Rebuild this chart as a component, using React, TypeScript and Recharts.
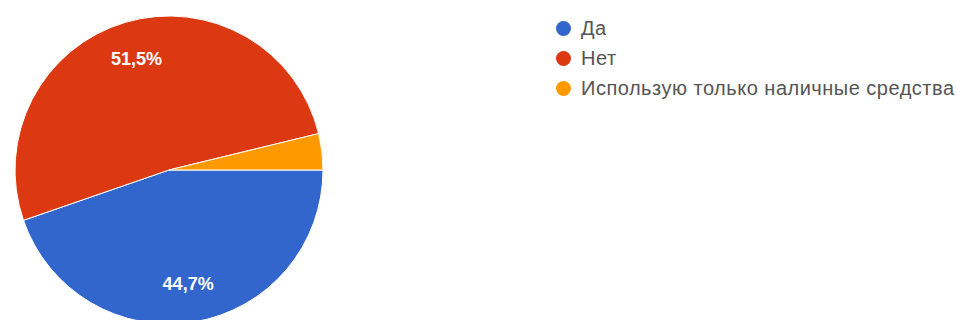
import React from "react";
import { PieChart, Pie, Cell } from "recharts";

const answers = ["Да", "Нет", "Использую только наличные средства"];
const shares = [44.7, 51.5, 3.8];
const colors = ["#3366cc", "#dc3912", "#ff9900"];

const data = answers.map((name, i) => ({ name, value: shares[i] }));

const RADIAN = Math.PI / 180;
const font = "'Liberation Sans', Arial, sans-serif";

const renderLabel = (props: any) => {
  const { cx, cy, midAngle, outerRadius, value } = props;
  if (value < 5) return null;
  const r = outerRadius * 0.75;
  const x = cx + r * Math.cos(-midAngle * RADIAN);
  const y = cy + r * Math.sin(-midAngle * RADIAN);
  return (
    <text
      x={x}
      y={y}
      fill="#fff"
      textAnchor="middle"
      dominantBaseline="central"
      style={{ fontFamily: font, fontSize: 18, fontWeight: 700 }}
    >
      {value.toFixed(1).replace(".", ",")}%
    </text>
  );
};

const LegendBox = () => (
  <div
    style={{
      position: "absolute",
      left: 556,
      top: 13,
      fontFamily: font,
      fontSize: 20,
      letterSpacing: 0.5,
      color: "#555",
    }}
  >
    {answers.map((name, i) => (
      <div key={name} style={{ display: "flex", alignItems: "center", height: 30 }}>
        <span
          style={{
            width: 15,
            height: 15,
            borderRadius: "50%",
            background: colors[i],
            marginRight: 10,
            flex: "none",
          }}
        />
        <span style={{ whiteSpace: "nowrap" }}>{name}</span>
      </div>
    ))}
  </div>
);

export default function App() {
  return (
    <div style={{ position: "absolute", left: 0, top: 0, width: 957, height: 320, background: "#fff", overflow: "hidden" }}>
      <PieChart width={957} height={320} margin={{ top: 0, right: 0, bottom: 0, left: 0 }}>
        <Pie
          data={data}
          dataKey="value"
          nameKey="name"
          cx={169}
          cy={170}
          outerRadius={154}
          startAngle={0}
          endAngle={-360}
          stroke="#fff"
          strokeWidth={1}
          label={renderLabel}
          labelLine={false}
          isAnimationActive={false}
        >
          {data.map((d, i) => (
            <Cell key={d.name} fill={colors[i]} />
          ))}
        </Pie>
      </PieChart>
      <LegendBox />
    </div>
  );
}
